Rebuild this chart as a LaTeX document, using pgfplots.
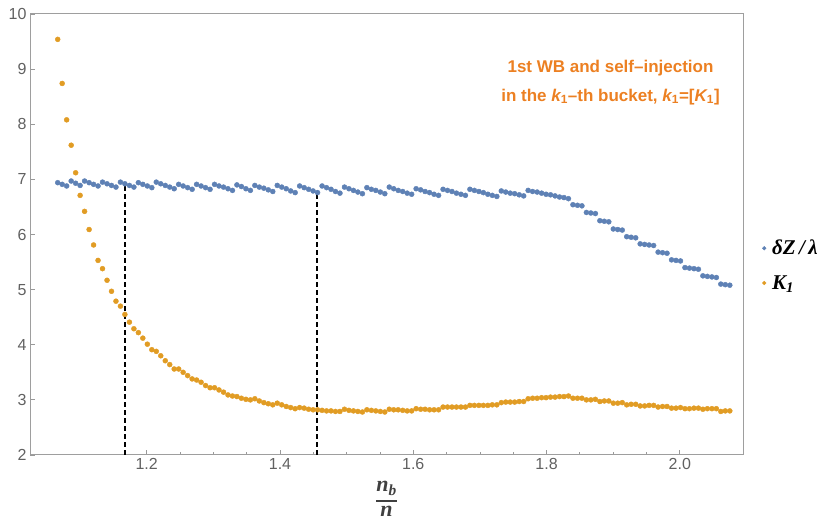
\documentclass[border=0pt]{standalone}
\usepackage{pgfplots}
\pgfplotsset{compat=1.18}
\usepackage{pgfplotstable}
\usepackage{fontspec}
\setmainfont{Liberation Sans}
\newfontfamily\tnr{Liberation Serif}
\definecolor{blueC}{RGB}{94,129,181}
\definecolor{orangeC}{RGB}{225,156,36}
\definecolor{annot}{RGB}{236,128,34}
\pgfplotstableread{
i x dz k
0 1.0665 6.94 9.54
1 1.0732 6.91 8.74
2 1.0799 6.88 8.08
3 1.0867 6.97 7.62
4 1.0934 6.93 7.12
5 1.1001 6.89 6.71
6 1.1068 6.97 6.42
7 1.1136 6.94 6.09
8 1.1203 6.91 5.81
9 1.1270 6.88 5.53
10 1.1337 6.95 5.38
11 1.1405 6.92 5.17
12 1.1472 6.89 4.97
13 1.1539 6.86 4.79
14 1.1606 6.95 4.70
15 1.1673 6.92 4.55
16 1.1741 6.89 4.41
17 1.1808 6.86 4.29
18 1.1875 6.94 4.22
19 1.1942 6.91 4.12
20 1.2010 6.88 4.01
21 1.2077 6.85 3.91
22 1.2144 6.95 3.88
23 1.2211 6.92 3.80
24 1.2279 6.89 3.71
25 1.2346 6.86 3.64
26 1.2413 6.83 3.56
27 1.2480 6.91 3.56
28 1.2547 6.88 3.50
29 1.2615 6.85 3.44
30 1.2682 6.82 3.38
31 1.2749 6.91 3.36
32 1.2816 6.88 3.32
33 1.2884 6.85 3.26
34 1.2951 6.82 3.22
35 1.3018 6.91 3.22
36 1.3085 6.88 3.18
37 1.3153 6.86 3.14
38 1.3220 6.83 3.09
39 1.3287 6.80 3.07
40 1.3354 6.90 3.06
41 1.3421 6.87 3.03
42 1.3489 6.83 3.01
43 1.3556 6.80 3.00
44 1.3623 6.89 3.02
45 1.3690 6.86 2.98
46 1.3758 6.84 2.95
47 1.3825 6.81 2.93
48 1.3892 6.78 2.91
49 1.3959 6.89 2.94
50 1.4027 6.86 2.91
51 1.4094 6.83 2.88
52 1.4161 6.79 2.86
53 1.4228 6.76 2.84
54 1.4295 6.88 2.86
55 1.4363 6.85 2.85
56 1.4430 6.82 2.83
57 1.4497 6.79 2.82
58 1.4564 6.76 2.82
59 1.4632 6.88 2.81
60 1.4699 6.85 2.80
61 1.4766 6.82 2.80
62 1.4833 6.78 2.79
63 1.4900 6.75 2.79
64 1.4968 6.86 2.83
65 1.5035 6.83 2.81
66 1.5102 6.80 2.80
67 1.5169 6.77 2.79
68 1.5237 6.74 2.78
69 1.5304 6.85 2.82
70 1.5371 6.82 2.81
71 1.5438 6.80 2.80
72 1.5506 6.77 2.79
73 1.5573 6.74 2.78
74 1.5640 6.86 2.83
75 1.5707 6.83 2.82
76 1.5774 6.80 2.82
77 1.5842 6.78 2.81
78 1.5909 6.75 2.80
79 1.5976 6.73 2.80
80 1.6043 6.83 2.84
81 1.6111 6.81 2.83
82 1.6178 6.78 2.83
83 1.6245 6.76 2.82
84 1.6312 6.73 2.82
85 1.6380 6.71 2.82
86 1.6447 6.82 2.87
87 1.6514 6.80 2.87
88 1.6581 6.78 2.87
89 1.6648 6.75 2.87
90 1.6716 6.73 2.87
91 1.6783 6.71 2.87
92 1.6850 6.82 2.90
93 1.6917 6.80 2.90
94 1.6985 6.78 2.90
95 1.7052 6.76 2.90
96 1.7119 6.73 2.90
97 1.7186 6.71 2.91
98 1.7254 6.69 2.91
99 1.7321 6.79 2.95
100 1.7388 6.77 2.96
101 1.7455 6.75 2.96
102 1.7522 6.74 2.96
103 1.7590 6.72 2.97
104 1.7657 6.70 2.97
105 1.7724 6.80 3.02
106 1.7791 6.78 3.03
107 1.7859 6.77 3.03
108 1.7926 6.75 3.04
109 1.7993 6.73 3.04
110 1.8060 6.72 3.05
111 1.8128 6.70 3.05
112 1.8195 6.68 3.06
113 1.8262 6.67 3.06
114 1.8329 6.65 3.07
115 1.8396 6.54 3.03
116 1.8464 6.53 3.03
117 1.8531 6.52 3.03
118 1.8598 6.40 3.00
119 1.8665 6.39 3.00
120 1.8733 6.38 3.01
121 1.8800 6.25 2.97
122 1.8867 6.24 2.98
123 1.8934 6.23 2.98
124 1.9002 6.10 2.94
125 1.9069 6.09 2.94
126 1.9136 6.08 2.95
127 1.9203 5.96 2.91
128 1.9270 5.95 2.92
129 1.9338 5.94 2.92
130 1.9405 5.83 2.89
131 1.9472 5.82 2.89
132 1.9539 5.81 2.90
133 1.9607 5.80 2.90
134 1.9674 5.68 2.87
135 1.9741 5.67 2.88
136 1.9808 5.66 2.88
137 1.9876 5.54 2.85
138 1.9943 5.53 2.85
139 2.0010 5.52 2.86
140 2.0077 5.40 2.84
141 2.0144 5.39 2.84
142 2.0212 5.38 2.85
143 2.0279 5.37 2.85
144 2.0346 5.25 2.83
145 2.0413 5.24 2.84
146 2.0481 5.23 2.84
147 2.0548 5.22 2.84
148 2.0615 5.10 2.79
149 2.0682 5.09 2.80
150 2.0750 5.08 2.80
}\datatable
\begin{document}
\begin{tikzpicture}
\useasboundingbox (-30pt,-71pt) rectangle (800pt,455pt);
\begin{axis}[
  at={(0,0)}, anchor=south west, scale only axis,
  width=713pt, height=441pt,
  xmin=1.0249, xmax=2.0948, ymin=2, ymax=10,
  xtick={1.2,1.4,1.6,1.8,2.0},
  xticklabels={1.2,1.4,1.6,1.8,2.0},
  minor x tick num=3,
  ytick={2,3,4,5,6,7,8,9,10},
  tick pos=left,
  tick align=inside,
  major tick length=5pt, minor tick length=3pt,
  every tick/.style={black!40, line width=0.8pt},
  axis line style={black!38, line width=1pt},
  tick label style={font=\fontsize{16}{19}\selectfont, text=black!62},
  /pgf/number format/assume math mode=true,
  xlabel={\setlength{\arrayrulewidth}{1.6pt}\renewcommand{\arraystretch}{0.9}\begin{tabular}{@{}c@{}}n\textsubscript{b}\\[2pt]\hline\rule{0pt}{15pt}n\end{tabular}},
  xlabel style={at={(axis description cs:0.5,-0.052)}, anchor=north, text=black!75,
    font=\tnr\bfseries\itshape\fontsize{22}{22}\selectfont, inner sep=0pt},
  legend style={at={(1.027,0.43)}, anchor=west, draw=none, fill=none,
    font=\tnr\bfseries\itshape\fontsize{21}{23}\selectfont, row sep=15pt, inner sep=0pt},
  legend cell align=left,
  legend image code/.code={\draw[#1] plot coordinates {(4pt,0pt)};},
]
\addplot[only marks, mark=*, mark size=2.5pt, color=blueC, forget plot] table[x=x, y=dz] {\datatable};
\addplot[only marks, mark=*, mark size=2.5pt, color=orangeC, forget plot] table[x=x, y=k] {\datatable};
\addplot[black, line width=2pt, dash pattern=on 5pt off 3pt, forget plot] coordinates {(1.168,2) (1.168,6.92)};
\addplot[black, line width=2pt, dash pattern=on 5pt off 3pt, forget plot] coordinates {(1.456,2) (1.456,6.76)};
\addlegendimage{only marks, mark=*, mark size=1.8pt, color=blueC}
\addlegendentry{\hspace{4pt}δZ\,/\,λ}
\addlegendimage{only marks, mark=*, mark size=1.8pt, color=orangeC}
\addlegendentry{\hspace{4pt}K\textsubscript{1}}
\node[align=center, text=annot, font=\bfseries\fontsize{17}{29}\selectfont] at (axis cs:1.896,8.76)
  {1st WB and self--injection\\in the {\itshape k}\textsubscript{1}--th bucket, {\itshape k}\textsubscript{1}=[{\itshape K}\textsubscript{1}]};
\end{axis}
\end{tikzpicture}
\end{document}
